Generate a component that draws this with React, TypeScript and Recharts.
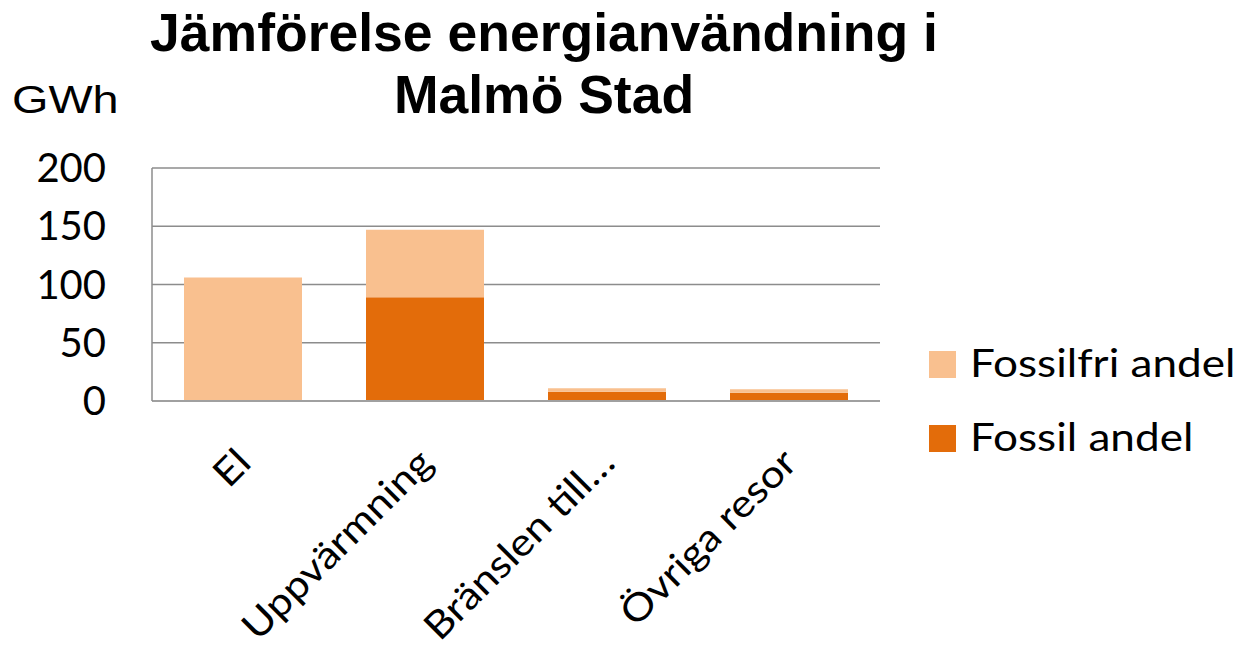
import { BarChart, Bar, XAxis, YAxis, CartesianGrid, Legend } from "recharts";

const categories = ["El", "Uppvärmning", "Bränslen till…", "Övriga resor"];
const fossilAndel = [0, 89, 8, 7];
const fossilfriAndel = [106, 58, 3, 3];
const yTicks = [0, 50, 100, 150, 200];

const FOSSIL = "#e36c0a";
const FOSSILFRI = "#f9c08f";
const GRID = "#8c8c8c";

const data = categories.map((name, i) => ({
  name,
  fossil: fossilAndel[i],
  fossilfri: fossilfriAndel[i],
}));

// labels in the original are a bit wider than Lato, so stretch them along the text
function CategoryTick({ x, y, payload }: any) {
  const ax = x + 10;
  const ay = y + 64;
  return (
    <text
      x={0}
      y={0}
      transform={`translate(${ax} ${ay}) rotate(-45) scale(1.12 1)`}
      textAnchor="end"
      fontSize={38}
      fontFamily="Lato"
      fill="#000"
    >
      {payload.value}
    </text>
  );
}

function LegendBox() {
  const items = [
    { label: "Fossilfri andel", color: FOSSILFRI },
    { label: "Fossil andel", color: FOSSIL },
  ];
  return (
    <div style={{ position: "relative", width: 310, height: 120 }}>
      {items.map((it, i) => (
        <div key={it.label}>
          <div
            style={{
              position: "absolute",
              left: 0,
              top: i * 74,
              width: 27,
              height: 27,
              background: it.color,
            }}
          />
          <div
            style={{
              position: "absolute",
              left: 41,
              top: i * 74 - 12,
              fontFamily: "Lato",
              fontSize: 38,
              lineHeight: "46px",
              whiteSpace: "nowrap",
              color: "#000",
              transform: "scaleX(1.16)",
              transformOrigin: "left center",
            }}
          >
            {it.label}
          </div>
        </div>
      ))}
    </div>
  );
}

export default function App() {
  return (
    <div
      style={{
        position: "absolute",
        left: 0,
        top: 0,
        width: 1239,
        height: 646,
        background: "#fff",
        overflow: "hidden",
      }}
    >
      <div
        style={{
          position: "absolute",
          left: 144,
          top: 2,
          width: 800,
          textAlign: "center",
          fontFamily: "'Liberation Sans', Arial, sans-serif",
          fontWeight: "bold",
          fontSize: 53.5,
          lineHeight: "62px",
          color: "#000",
        }}
      >
        Jämförelse energianvändning i
        <br />
        Malmö Stad
      </div>
      <div
        style={{
          position: "absolute",
          left: 12,
          top: 80,
          fontFamily: "'Liberation Sans', Arial, sans-serif",
          fontSize: 39,
          lineHeight: "39px",
          color: "#000",
          transform: "scaleX(1.2)",
          transformOrigin: "left center",
        }}
      >
        GWh
      </div>
      <BarChart
        width={1239}
        height={646}
        data={data}
        margin={{ top: 168, right: 359, left: 0, bottom: 0 }}
        barSize={118}
      >
        <CartesianGrid vertical={false} stroke={GRID} strokeWidth={1.5} />
        <XAxis
          dataKey="name"
          height={245}
          interval={0}
          tickLine={false}
          tickSize={0}
          tickMargin={0}
          axisLine={{ stroke: "#a0a0a0", strokeWidth: 2 }}
          tick={<CategoryTick />}
        />
        <YAxis
          width={152}
          domain={[0, 200]}
          ticks={yTicks}
          tickLine={false}
          tickSize={0}
          tickMargin={46}
          axisLine={{ stroke: GRID, strokeWidth: 1.5 }}
          tick={{ fontSize: 40, fontFamily: "Lato", fill: "#000" }}
        />
        <Legend
          layout="vertical"
          align="center"
          verticalAlign="middle"
          wrapperStyle={{ left: 929, top: 351, width: 310 }}
          content={() => <LegendBox />}
        />
        <Bar dataKey="fossil" name="Fossil andel" stackId="a" fill={FOSSIL} isAnimationActive={false} />
        <Bar dataKey="fossilfri" name="Fossilfri andel" stackId="a" fill={FOSSILFRI} isAnimationActive={false} />
      </BarChart>
    </div>
  );
}
